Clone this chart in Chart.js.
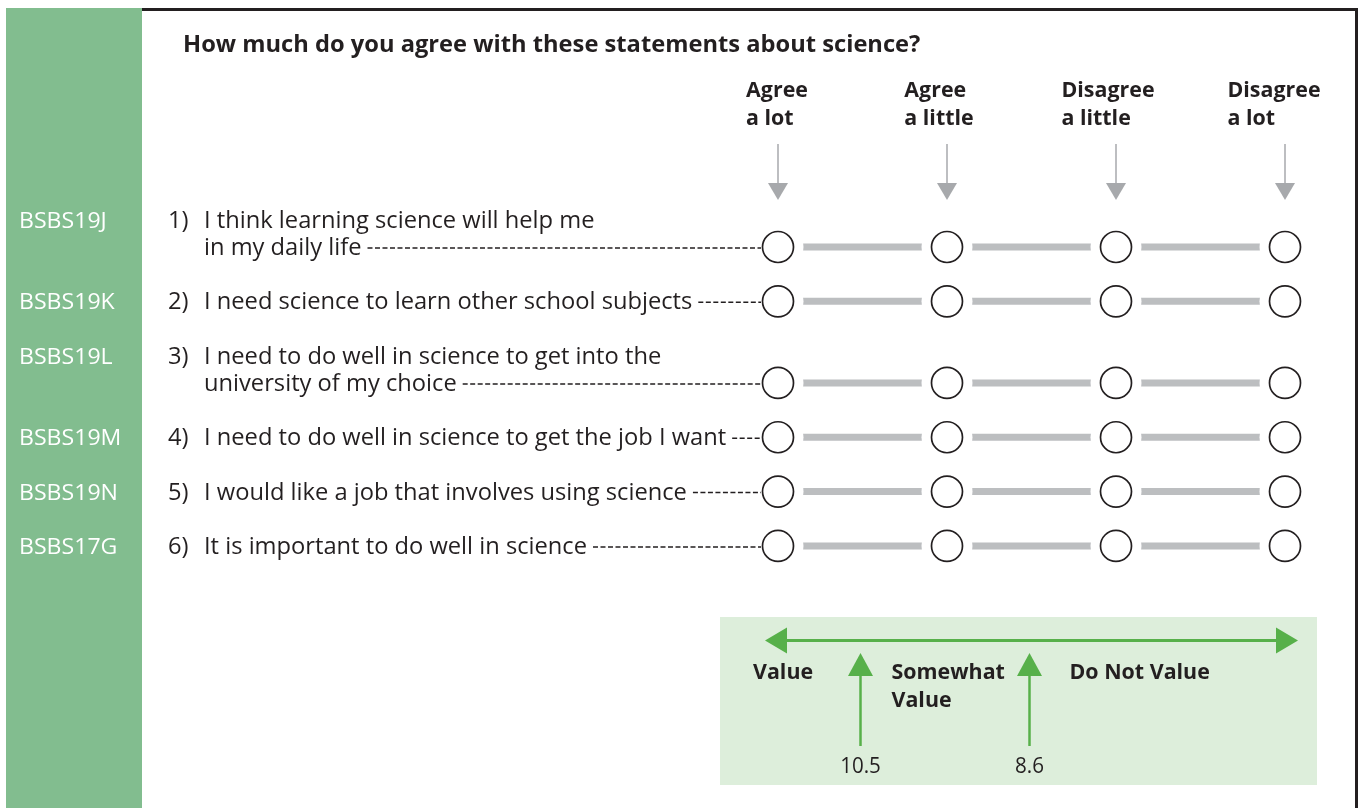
<!DOCTYPE html>
<html>
<head>
<meta charset="utf-8">
<script src="https://cdn.jsdelivr.net/npm/chart.js@4.4.1/dist/chart.umd.min.js"></script>
<style>
  html, body { margin: 0; padding: 0; background: #fff; }
  #wrap { width: 1361px; height: 808px; position: relative; }
</style>
</head>
<body>
<div id="wrap"><canvas id="scaleChart"></canvas></div>
<script>
const title = "How much do you agree with these statements about science?";
const responses = [["Agree", "a lot"], ["Agree", "a little"], ["Disagree", "a little"], ["Disagree", "a lot"]];
const itemCodes = ["BSBS19J", "BSBS19K", "BSBS19L", "BSBS19M", "BSBS19N", "BSBS17G"];
const itemText = [
  ["I think learning science will help me", "in my daily life"],
  ["I need science to learn other school subjects"],
  ["I need to do well in science to get into the", "university of my choice"],
  ["I need to do well in science to get the job I want"],
  ["I would like a job that involves using science"],
  ["It is important to do well in science"]
];
const cutScores = ["10.5", "8.6"];
const regionLabels = [["Value"], ["Somewhat", "Value"], ["Do Not Value"]];

const INK = "#231f20";
const FONT = "'Open Sans', 'Noto Sans', sans-serif";
const LINE_H = 27.18;
const Y_OFF = 0.087;
const headerNudge = [-1, -8, -8, -11];

// each item sits on text lines; the circles go on the last line of the item
const firstLine = 8;
const itemStart = [];
const itemRow = [];
let cur = firstLine;
itemText.forEach(lines => {
  itemStart.push(cur);
  itemRow.push(cur + lines.length - 1);
  cur += lines.length + 1;
});

const labels = responses.map(r => r.join(" "));
const rowPoints = i => labels.map(l => ({ x: l, y: itemRow[i] }));

const datasets = [];
itemText.forEach((t, i) => {
  datasets.push({ data: rowPoints(i), borderColor: "#bcbec0", borderWidth: 7, pointRadius: 0,
    borderCapStyle: "butt", order: 3, clip: false });
  datasets.push({ data: rowPoints(i), showLine: false, pointRadius: 25.5, pointBorderWidth: 0,
    pointBackgroundColor: "#fff", order: 2, clip: false });
  datasets.push({ data: rowPoints(i), showLine: false, pointRadius: 15.5, pointBorderWidth: 1.7,
    pointBorderColor: INK, pointBackgroundColor: "#fff", order: 1, clip: false });
});

function txt(ctx, s, x, y, font, color, align, sx) {
  ctx.save();
  ctx.font = font;
  ctx.fillStyle = color;
  ctx.textAlign = align || "left";
  ctx.textBaseline = "alphabetic";
  ctx.translate(x, y);
  ctx.scale(sx || 1, 1);
  ctx.fillText(s, 0, 0);
  const w = ctx.measureText(s).width * (sx || 1);
  ctx.restore();
  return w;
}
function width(ctx, s, font, sx) {
  ctx.save(); ctx.font = font;
  const w = ctx.measureText(s).width * (sx || 1);
  ctx.restore();
  return w;
}

const QF = "23px " + FONT, QSX = 1.03;
const TF = "bold 23px " + FONT, TSX = 1.03;
const BF = "bold 21px " + FONT, BSX = 1.02;
const NF = "21px " + FONT, NSX = 0.98;

const frame = {
  id: "frame",
  beforeDraw(chart) {
    const ctx = chart.ctx;
    ctx.save();
    ctx.fillStyle = "#82bd8f";
    ctx.fillRect(6, 8, 136, 800);
    ctx.fillStyle = INK;
    ctx.fillRect(142, 8, 1216, 3);
    ctx.fillRect(1355, 8, 3, 800);
    // value-scale box
    const x = chart.scales.x;
    ctx.fillStyle = "#ddeedb";
    ctx.fillRect(x.getPixelForValue(0) - 58, 617, x.getPixelForValue(3) - x.getPixelForValue(0) + 90, 168);
    ctx.restore();
  },
  afterDatasetsDraw(chart) {
    const ctx = chart.ctx;
    const x = chart.scales.x, y = chart.scales.y;
    txt(ctx, title, 183, 52, TF, INK, "left", TSX);

    // column headers and grey arrows
    responses.forEach((r, j) => {
      const cx = x.getPixelForValue(j);
      const bw = Math.max(...r.map(s => width(ctx, s, BF, BSX)));
      r.forEach((s, k) => txt(ctx, s, cx - bw / 2 + headerNudge[j], 97 + k * 28, BF, INK, "left", BSX));
      ctx.save();
      ctx.strokeStyle = "#a7a9ac"; ctx.fillStyle = "#a7a9ac"; ctx.lineWidth = 1.5;
      ctx.beginPath(); ctx.moveTo(cx, 144); ctx.lineTo(cx, 186); ctx.stroke();
      ctx.beginPath(); ctx.moveTo(cx - 10, 183); ctx.lineTo(cx + 10, 183); ctx.lineTo(cx, 200); ctx.closePath(); ctx.fill();
      ctx.restore();
    });

    // items: code, number, text, leader dashes
    const left0 = x.getPixelForValue(0) - 16;
    itemText.forEach((lines, i) => {
      const y0 = y.getPixelForValue(itemStart[i]) + 8;
      txt(ctx, itemCodes[i], 19, y0, "22px " + FONT, "#fff", "left", 1.05);
      txt(ctx, (i + 1) + ")", 168, y0, QF, INK, "left", QSX);
      let endX = 0;
      lines.forEach((s, k) => {
        endX = 204 + txt(ctx, s, 204, y0 + k * LINE_H, QF, INK, "left", QSX);
      });
      const yc = y.getPixelForValue(itemRow[i]) + 1;
      ctx.save();
      ctx.strokeStyle = INK; ctx.lineWidth = 1.5; ctx.setLineDash([5, 2.5]);
      ctx.beginPath(); ctx.moveTo(endX + 6, yc); ctx.lineTo(left0 - 1, yc); ctx.stroke();
      ctx.restore();
    });

    // value-scale arrows
    const G = "#57b04a";
    const a = x.getPixelForValue(0) - 13, b = x.getPixelForValue(3) + 13, ya = 640.5;
    ctx.save();
    ctx.strokeStyle = G; ctx.fillStyle = G; ctx.lineWidth = 3;
    ctx.beginPath(); ctx.moveTo(a + 10, ya); ctx.lineTo(b - 10, ya); ctx.stroke();
    ctx.beginPath(); ctx.moveTo(a, ya); ctx.lineTo(a + 22, ya - 13); ctx.lineTo(a + 22, ya + 13); ctx.closePath(); ctx.fill();
    ctx.beginPath(); ctx.moveTo(b, ya); ctx.lineTo(b - 22, ya - 13); ctx.lineTo(b - 22, ya + 13); ctx.closePath(); ctx.fill();
    cutScores.forEach((c, k) => {
      const cx = x.getPixelForValue(k + 0.5) - 2;
      ctx.lineWidth = 2.5;
      ctx.beginPath(); ctx.moveTo(cx, 670); ctx.lineTo(cx, 746); ctx.stroke();
      ctx.beginPath(); ctx.moveTo(cx, 653); ctx.lineTo(cx + 12.5, 676); ctx.lineTo(cx - 12.5, 676); ctx.closePath(); ctx.fill();
      txt(ctx, c, cx, 773, NF, INK, "center", NSX);
    });
    ctx.restore();
    const lx = [a - 12, x.getPixelForValue(0.5) + 29, x.getPixelForValue(1.5) + 38];
    regionLabels.forEach((r, k) => {
      r.forEach((s, m) => txt(ctx, s, lx[k], 679 + m * 28, BF, INK, "left", BSX));
    });
  }
};

new Chart(document.getElementById("scaleChart"), {
  type: "line",
  data: { labels: labels, datasets: datasets },
  options: {
    responsive: true,
    maintainAspectRatio: false,
    animation: false,
    events: [],
    layout: { autoPadding: false, padding: { left: 778, right: 76, top: 0, bottom: 0 } },
    plugins: { legend: { display: false }, tooltip: { enabled: false } },
    scales: {
      x: { type: "category", offset: false, display: false },
      y: { type: "linear", reverse: true, min: -Y_OFF, max: 808 / LINE_H - Y_OFF, display: false }
    }
  },
  plugins: [frame]
});
</script>
</body>
</html>
